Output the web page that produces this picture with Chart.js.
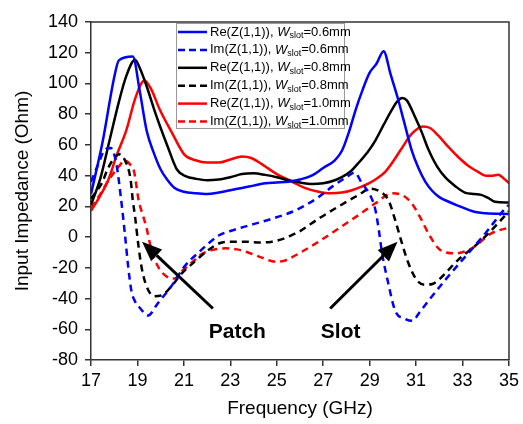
<!DOCTYPE html>
<html><head><meta charset="utf-8">
<script src="https://cdn.jsdelivr.net/npm/chart.js@4.4.1/dist/chart.umd.min.js"></script>
<style>html,body{margin:0;padding:0;background:#fff}#wrap{width:523px;height:424px}</style>
</head><body><div id="wrap"><canvas id="c" width="523" height="424"></canvas></div>
<script>
// ---- data (frequency in GHz, impedance in Ohm) ----
const fRe06 = [17,17.5,18,18.2,18.8,19.1,19.4,19.7,20,20.3,20.6,21,21.5,22,22.5,23,23.5,24,24.5,25,25.5,26,26.5,27,27.5,27.8,28.1,28.4,28.7,29,29.3,29.6,29.9,30.2,30.5,30.8,31.1,31.4,31.7,32,32.4,32.8,33.5,34,35];
const re06  = [28,62,104,115,117.5,95,69,55,44,37,32,29.5,28.5,28,29,30.5,32,33.5,35,35.5,36,37.5,40,45,50,56,68,83,96,107,113,121,106,91,74,57,45,36,30,26,23,20.5,16.5,15.5,15];
const fIm06 = [17,17.3,17.6,17.85,18.1,18.3,18.46,18.6,18.74,18.9,19.1,19.46,19.88,20.46,21.03,21.67,22.5,23,23.67,24.8,25.67,26.2,26.8,27.4,28,28.35,28.67,29.03,29.25,29.4,29.53,29.8,30.1,30.5,30.85,31.1,31.4,32.25,33.1,33.96,34.8,35];
const im06  = [36,47,57,58,47,24,2,-19,-35,-42,-46,-51,-43,-32,-19,-9.5,1,4,7,12,16.5,20.5,26,33,39,42,35,27,17.5,4,-10,-30,-48,-53,-54.5,-50,-44,-28,-13,2,18,21];
const fRe08 = [17,17.4,17.8,18.2,18.5,18.9,19.1,19.4,19.7,20,20.3,20.7,21.1,21.5,22,22.5,23,23.5,24,24.5,25,25.5,26,26.5,27,27.5,27.8,28.2,28.5,28.9,29.25,29.6,29.96,30.2,30.4,30.6,30.96,31.25,31.53,31.9,32.25,32.7,33.1,33.5,33.8,34.1,34.4,35];
const re08  = [21,38,63,88,104,115.5,110,98,84,71,59,44,39.5,38,37,37.5,39,41,41.5,40.5,39,37,35.5,34.5,35,37,39,43,48,55,63,73,83,88.5,90.5,89,78,68,57,46,39,33,29,28,27.5,25.5,23,22.5];
const fIm08 = [17,17.46,17.74,18.03,18.2,18.46,18.7,18.8,18.9,19.03,19.17,19.39,19.74,20.1,20.46,20.89,21.46,22,22.53,23,23.67,24.3,24.8,25.3,25.67,25.96,26.8,27.67,28.53,29.03,29.46,29.81,30.1,30.39,30.67,31.03,31.39,31.7,31.96,32.8,33.67,34.53,35];
const im08  = [25,35,45,52,54,50,38,24,13,-4,-19,-32,-38.5,-37.5,-32,-24,-16,-9,-4,-3,-3,-3.5,-3,-1,1.5,3.5,12,20,27.5,31.5,29.5,24,11,-4,-17,-28,-31,-30.5,-28,-15,-4,9,17];
const fRe10 = [17,17.4,17.74,18.1,18.53,18.9,19.3,19.6,19.96,20.5,21.03,21.5,22,22.5,23,23.5,23.9,24.4,25,25.67,26.2,26.8,27.3,27.8,28.24,28.6,28.96,29.3,29.67,30,30.39,30.8,31.3,31.6,31.96,32.4,32.8,33.2,33.67,34,34.3,34.53,34.75,35];
const re10  = [17,27,37,53,70,90,102,96,83,67.5,53.5,50,48.5,48.5,50.5,52.5,51.5,47,41,36,32,29.5,28.5,29,30.5,32.5,35,38,42.5,49,58,67,72,71,66,58.5,52.3,47,42.5,40,40,40.5,38.5,35];
const fIm10 = [17,17.4,17.8,18.2,18.45,18.7,18.85,18.95,19.05,19.24,19.39,19.6,19.88,20.24,20.6,20.89,21.46,21.67,22.2,22.8,23.3,23.67,24.3,24.96,25.3,25.67,25.96,26.8,27.67,28.53,29.25,29.96,30.39,30.81,31.24,31.53,31.96,32.3,32.67,33.4,34.24,34.89,35];
const im10  = [19,28,38,46,50,47,43,34,24,14,6,-8,-19,-25.5,-27,-22.5,-15,-12,-8.5,-7.3,-8,-9.5,-13,-16,-15.5,-13,-10.6,-3,5.7,14.4,22,28.5,27.4,22,11,2.4,-7.3,-10,-10.6,-7.3,2.4,5.7,6];

const xTicks = [17,19,21,23,25,27,29,31,33,35];
const yTicks = [-80,-60,-40,-20,0,20,40,60,80,100,120,140];
const xTitle = 'Frequency (GHz)';
const yTitle = 'Input Impedance (Ohm)';
const legendPrefix = ['Re(Z(1,1)), ','Im(Z(1,1)), ','Re(Z(1,1)), ','Im(Z(1,1)), ','Re(Z(1,1)), ','Im(Z(1,1)), '];
const legendSuffix = ['=0.6mm','=0.6mm','=0.8mm','=0.8mm','=1.0mm','=1.0mm'];
const notes = [
  {text:'Patch', tip:{x:19.2,y:-3}, tail:{x:22.25,y:-46.5}, label:{x:23.3,y:-62}},
  {text:'Slot',  tip:{x:30.2,y:-3}, tail:{x:27.3,y:-46.5}, label:{x:27.75,y:-62}}
];

// ---- build ----
const pts = (xs, ys) => xs.map((x, i) => ({x: x, y: ys[i]}));
const BLUE = '#0000ff', BLACK = '#000000', RED = '#ff0000';
const DASH = [7, 5];
function ds(label, xs, ys, color, dashed) {
  return {label, data: pts(xs, ys), borderColor: color, backgroundColor: color,
    borderWidth: 2.5, borderDash: dashed ? DASH : [], pointRadius: 0, fill: false,
    cubicInterpolationMode: 'monotone'};
}
const datasets = [
  ds('Re06', fRe06, re06, BLUE, false),
  ds('Im06', fIm06, im06, BLUE, true),
  ds('Re08', fRe08, re08, BLACK, false),
  ds('Im08', fIm08, im08, BLACK, true),
  ds('Re10', fRe10, re10, RED, false),
  ds('Im10', fIm10, im10, RED, true)
];

const FONT = "'Liberation Sans', Arial, sans-serif";
Chart.defaults.font.family = FONT;
Chart.defaults.color = '#000';

const decor = {
  id: 'decor',
  afterDraw(chart) {
    const ctx = chart.ctx, a = chart.chartArea;
    const sx = chart.scales.x, sy = chart.scales.y;
    ctx.save();
    // frame top & right
    ctx.strokeStyle = '#333'; ctx.lineWidth = 1.5;
    ctx.beginPath();
    ctx.moveTo(a.left, a.top); ctx.lineTo(a.right, a.top); ctx.lineTo(a.right, a.bottom);
    ctx.stroke();
    // arrows + labels
    notes.forEach(n => {
      const x1 = sx.getPixelForValue(n.tail.x), y1 = sy.getPixelForValue(n.tail.y);
      const x2 = sx.getPixelForValue(n.tip.x), y2 = sy.getPixelForValue(n.tip.y);
      const ang = Math.atan2(y2 - y1, x2 - x1), L = 20, W = 8;
      const bx = x2 - L * Math.cos(ang), by = y2 - L * Math.sin(ang);
      ctx.strokeStyle = '#000'; ctx.lineWidth = 3; ctx.setLineDash([]);
      ctx.beginPath(); ctx.moveTo(x1, y1); ctx.lineTo(bx, by); ctx.stroke();
      ctx.fillStyle = '#000';
      ctx.beginPath(); ctx.moveTo(x2, y2);
      ctx.lineTo(bx + W * Math.sin(ang), by - W * Math.cos(ang));
      ctx.lineTo(bx - W * Math.sin(ang), by + W * Math.cos(ang));
      ctx.closePath(); ctx.fill();
      ctx.font = 'bold 21px ' + FONT; ctx.textAlign = 'center'; ctx.textBaseline = 'middle';
      ctx.fillText(n.text, sx.getPixelForValue(n.label.x), sy.getPixelForValue(n.label.y));
    });
    // legend
    const lx = 176, ly = 23, lw = 168, lh = 105;
    ctx.fillStyle = '#fff'; ctx.fillRect(lx, ly, lw, lh);
    ctx.strokeStyle = '#9a9a9a'; ctx.lineWidth = 1; ctx.strokeRect(lx + 0.5, ly + 0.5, lw, lh);
    datasets.forEach((d, i) => {
      const y = 32 + i * 17.9;
      ctx.strokeStyle = d.borderColor; ctx.lineWidth = 2.5;
      ctx.setLineDash(d.borderDash.length ? [7, 4] : []);
      ctx.beginPath(); ctx.moveTo(178, y); ctx.lineTo(207, y); ctx.stroke();
      ctx.setLineDash([]);
      ctx.fillStyle = '#000'; ctx.textAlign = 'left'; ctx.textBaseline = 'middle';
      let x = 210;
      ctx.font = '13px ' + FONT; ctx.fillText(legendPrefix[i], x, y); x += ctx.measureText(legendPrefix[i]).width;
      ctx.font = 'italic 13px ' + FONT; ctx.fillText('W', x, y); x += ctx.measureText('W').width;
      ctx.font = '9px ' + FONT; ctx.fillText('slot', x, y + 4); x += ctx.measureText('slot').width;
      ctx.font = '13px ' + FONT; ctx.fillText(legendSuffix[i], x, y);
    });
    ctx.restore();
  }
};

new Chart(document.getElementById('c'), {
  type: 'line',
  data: {datasets},
  options: {
    responsive: false, animation: false,
    layout: {padding: {top: 22, right: 12, left: 0, bottom: 0}},
    plugins: {legend: {display: false}, tooltip: {enabled: false}},
    scales: {
      x: {
        type: 'linear', min: 17, max: 35,
        afterBuildTicks: s => { s.ticks = xTicks.map(v => ({value: v})); },
        afterFit: s => { s.height = 64; },
        ticks: {font: {size: 18}, padding: 4, maxRotation: 0, autoSkip: false},
        grid: {drawOnChartArea: false, drawTicks: true, tickLength: 6, color: '#333', lineWidth: 1.5},
        border: {display: true, color: '#333', width: 1.5},
        title: {display: true, text: xTitle, font: {size: 19}, padding: {top: 0, bottom: 4}}
      },
      y: {
        type: 'linear', min: -80, max: 140,
        afterBuildTicks: s => { s.ticks = yTicks.map(v => ({value: v})); },
        afterFit: s => { s.width = 91; },
        ticks: {font: {size: 18}, padding: 7, autoSkip: false},
        grid: {drawOnChartArea: false, drawTicks: true, tickLength: 6, color: '#333', lineWidth: 1.5},
        border: {display: true, color: '#333', width: 1.5},
        title: {display: true, text: yTitle, font: {size: 19}, padding: {top: 11, bottom: 0}}
      }
    }
  },
  plugins: [decor]
});
</script></body></html>
